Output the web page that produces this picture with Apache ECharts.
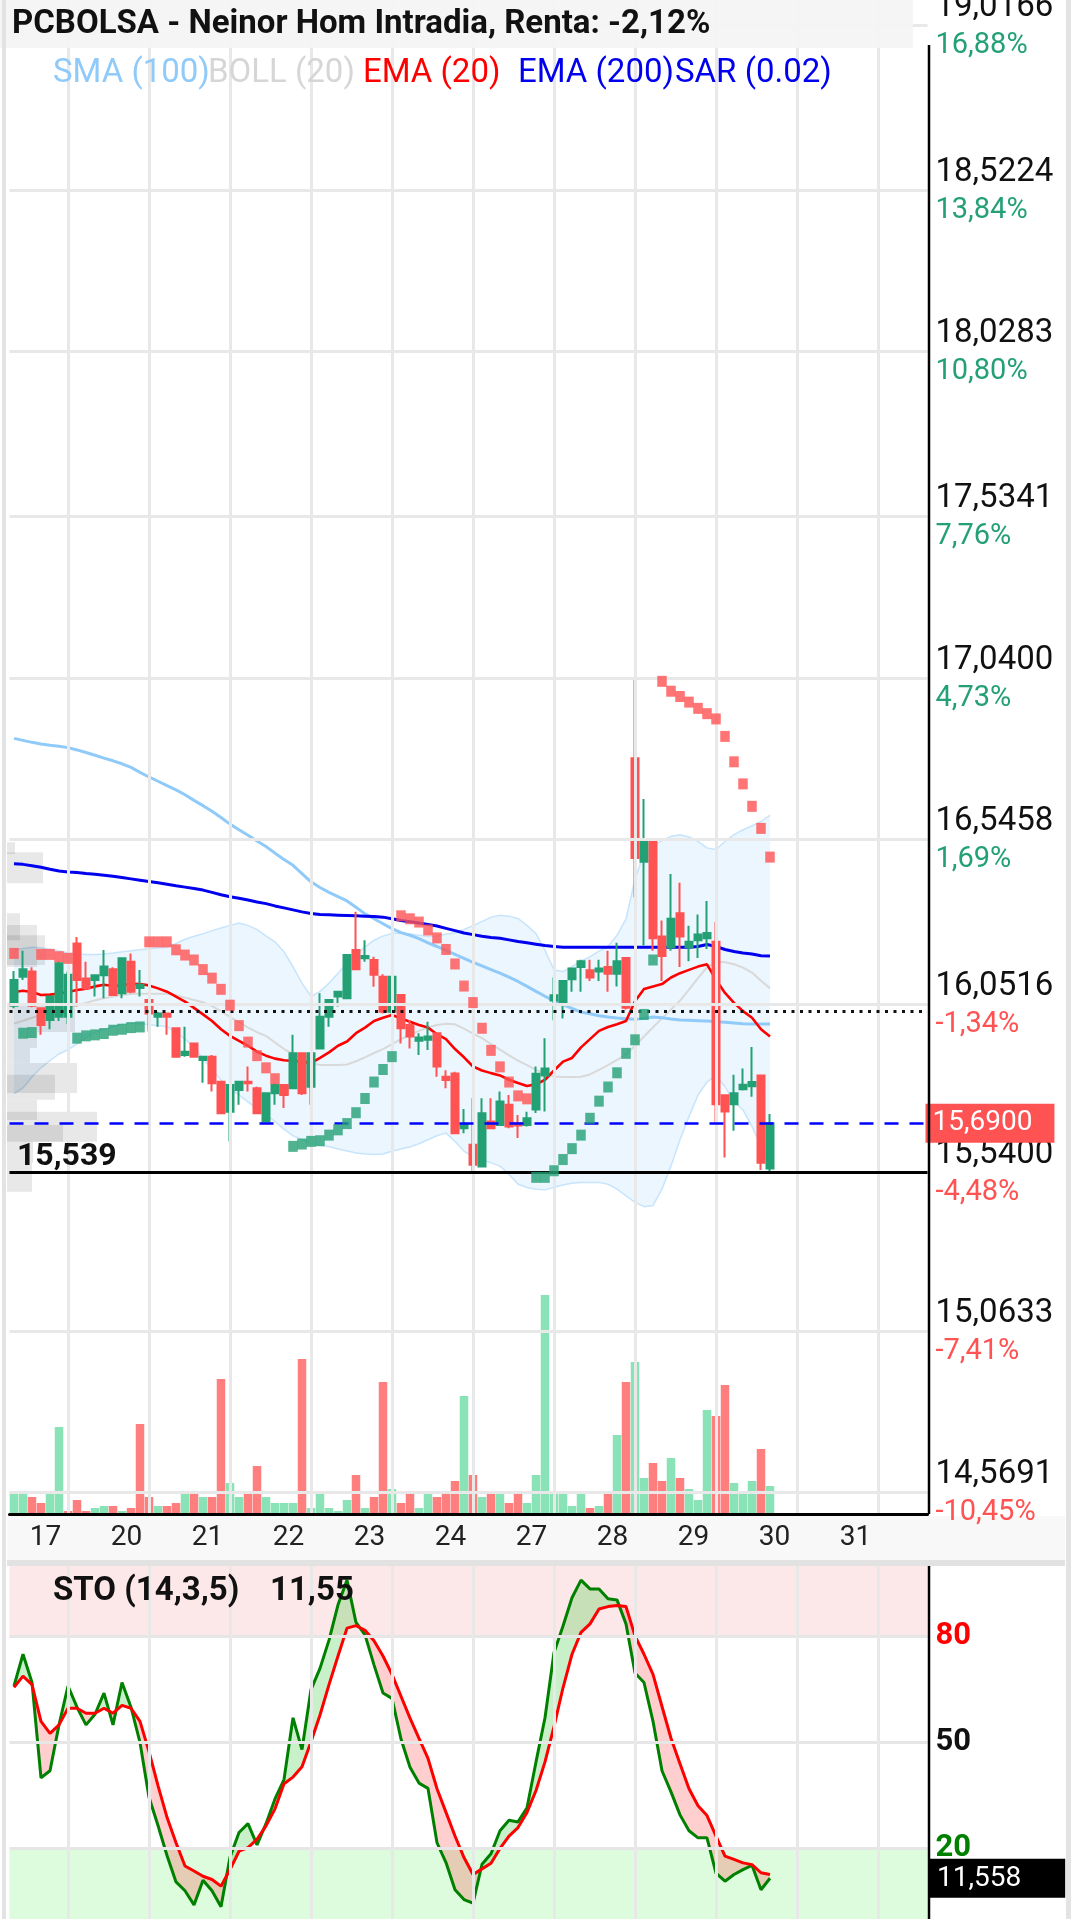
<!DOCTYPE html>
<html>
<head>
<meta charset="utf-8">
<script src="https://cdn.jsdelivr.net/npm/echarts@6/dist/echarts.min.js"></script>
<style>
html,body{margin:0;padding:0;background:#fff;}
#chart{width:1071px;height:1919px;}
</style>
</head>
<body>
<div id="chart"></div>
<script>
// PCBOLSA Neinor Homes, velas horarias + indicadores
const dayLabels = ['17', '20', '21', '22', '23', '24', '27', '28', '29', '30', '31'];
const firstDayBar = 4;   // primera vela del dia 17
const barsPerDay = 9;
const slots = 102;       // huecos del eje x (incluye futuro)

const open = [16.046,16.134,16.150,16.039,16.003,16.013,16.013,16.235,16.129,16.124,
  16.139,16.157,16.084,16.180,16.100,16.064,16.013,16.023,15.978,15.897,
  15.932,15.882,15.892,15.816,15.725,15.791,15.816,15.796,15.695,15.781,
  15.806,15.796,15.902,15.801,15.917,16.013,16.074,16.069,16.215,16.190,
  16.185,16.134,16.028,16.079,15.988,15.940,15.943,15.963,15.831,15.841,
  15.675,15.625,15.559,15.695,15.685,15.746,15.690,15.685,15.732,15.835,
  16.062,16.051,16.127,16.164,16.154,16.150,16.164,16.143,16.191,16.797,
  16.483,16.548,16.256,16.224,16.327,16.224,16.245,16.251,16.240,15.775,
  15.748,15.793,15.802,15.835,15.553];
const close = [16.124,16.157,16.046,15.988,16.074,16.175,16.140,16.124,16.099,16.139,
  16.165,16.079,16.190,16.089,16.110,16.023,16.023,16.013,15.892,15.907,
  15.892,15.892,15.811,15.720,15.806,15.816,15.811,15.720,15.781,15.806,
  15.776,15.902,15.781,15.902,16.013,16.064,16.089,16.200,16.157,16.197,
  16.140,16.028,16.134,15.978,15.953,15.950,15.953,15.862,15.821,15.660,
  15.685,15.564,15.720,15.675,15.756,15.680,15.683,15.705,15.840,15.856,
  16.078,16.121,16.159,16.181,16.132,16.159,16.143,16.181,16.040,16.494,
  16.548,16.251,16.197,16.310,16.256,16.240,16.262,16.267,15.748,15.726,
  15.781,15.807,15.815,15.570,15.690];
const low = [16.039,16.124,16.042,15.958,15.975,16.000,15.990,16.044,16.094,16.074,
  16.069,16.076,16.069,16.084,16.074,15.968,15.983,15.958,15.890,15.892,
  15.890,15.813,15.786,15.720,15.635,15.746,15.786,15.720,15.695,15.746,
  15.736,15.796,15.776,15.746,15.917,15.983,16.044,16.069,16.157,16.180,
  16.104,16.023,16.023,15.932,15.917,15.897,15.912,15.831,15.796,15.660,
  15.660,15.544,15.557,15.675,15.685,15.675,15.645,15.680,15.721,15.726,
  16.002,16.008,16.089,16.089,16.121,16.121,16.089,16.105,16.035,16.375,
  16.229,16.213,16.121,16.213,16.164,16.181,16.191,16.218,15.694,15.586,
  15.667,15.789,15.770,15.548,15.542];
const high = [16.152,16.213,16.163,16.040,16.075,16.180,16.150,16.255,16.180,16.140,
  16.215,16.163,16.190,16.205,16.155,16.066,16.028,16.025,15.980,15.983,
  15.935,15.892,15.897,15.816,15.806,15.816,15.862,15.801,15.781,15.811,
  15.806,15.958,15.905,15.905,16.084,16.064,16.090,16.200,16.331,16.245,
  16.195,16.142,16.134,16.080,16.003,15.963,15.998,15.963,15.851,15.846,
  15.733,15.766,15.766,15.766,15.786,15.776,15.715,15.725,15.862,15.948,
  16.132,16.121,16.159,16.186,16.186,16.186,16.213,16.237,16.194,17.040,
  16.673,16.548,16.305,16.446,16.419,16.289,16.323,16.364,16.300,15.775,
  15.837,15.856,15.921,15.837,15.718];

const volume = [22,20,17,11,22,87,3,14,3,6,
  8,8,3,6,90,17,8,8,11,20,
  22,17,17,135,31,17,20,48,17,11,
  11,11,155,6,20,6,3,14,39,6,
  17,132,25,11,22,6,22,17,20,33,
  118,39,17,20,20,11,22,11,39,219,
  22,22,8,20,6,8,20,79,132,152,
  36,51,33,56,36,25,14,104,98,129,
  31,22,33,65,28];
const volUp = [1,1,0,0,1,1,0,0,0,1,
  1,0,1,0,0,0,1,0,0,1,
  0,1,0,0,1,1,0,0,1,1,
  1,1,0,1,1,1,1,1,0,1,
  0,0,1,0,0,1,1,0,0,0,
  1,0,1,0,1,0,0,1,1,1,
  1,1,1,1,0,1,0,1,0,1,
  1,0,0,1,0,1,1,1,0,0,
  1,1,1,0,1];

const sma100 = [16.857,16.851,16.845,16.840,16.836,16.833,16.829,16.822,16.814,16.806,
  16.797,16.789,16.780,16.769,16.754,16.740,16.727,16.714,16.701,16.686,
  16.669,16.653,16.636,16.617,16.597,16.580,16.563,16.546,16.529,16.509,
  16.490,16.472,16.447,16.422,16.405,16.390,16.377,16.364,16.345,16.325,
  16.310,16.295,16.280,16.268,16.260,16.250,16.237,16.226,16.214,16.202,
  16.190,16.178,16.167,16.156,16.145,16.133,16.120,16.105,16.090,16.075,
  16.062,16.050,16.038,16.027,16.022,16.016,16.012,16.009,16.007,16.005,
  16.008,16.012,16.010,16.006,16.003,16.002,16.001,16.000,15.998,15.996,
  15.994,15.992,15.991,15.991,15.991];
const ema200 = [16.477,16.475,16.471,16.466,16.460,16.455,16.452,16.450,16.447,16.445,
  16.442,16.439,16.435,16.431,16.427,16.423,16.419,16.415,16.410,16.406,
  16.402,16.397,16.390,16.383,16.377,16.372,16.367,16.361,16.356,16.349,
  16.343,16.337,16.331,16.326,16.323,16.322,16.321,16.320,16.319,16.318,
  16.317,16.315,16.310,16.305,16.301,16.297,16.293,16.288,16.281,16.274,
  16.267,16.262,16.257,16.253,16.251,16.246,16.241,16.237,16.233,16.229,
  16.226,16.224,16.224,16.224,16.224,16.224,16.224,16.224,16.224,16.224,
  16.224,16.224,16.224,16.224,16.224,16.224,16.226,16.232,16.226,16.217,
  16.211,16.206,16.203,16.198,16.197];
const ema20 = [16.088,16.092,16.088,16.079,16.080,16.083,16.088,16.094,16.098,16.105,
  16.110,16.106,16.108,16.113,16.112,16.108,16.099,16.089,16.074,16.059,
  16.040,16.020,16.000,15.975,15.955,15.940,15.925,15.907,15.895,15.886,
  15.881,15.879,15.877,15.872,15.888,15.905,15.925,15.938,15.963,15.980,
  16.000,16.010,16.018,16.008,15.998,15.988,15.980,15.960,15.945,15.915,
  15.890,15.862,15.850,15.842,15.835,15.822,15.812,15.803,15.808,15.822,
  15.850,15.877,15.888,15.920,15.945,15.970,15.982,15.990,16.000,16.060,
  16.097,16.105,16.112,16.132,16.145,16.155,16.165,16.172,16.125,16.085,
  16.055,16.030,16.010,15.975,15.953];
const bollMid = [15.992,16.001,16.010,16.018,16.026,16.034,16.042,16.048,16.055,16.063,
  16.069,16.074,16.079,16.082,16.083,16.083,16.083,16.083,16.078,16.071,
  16.064,16.057,16.045,16.030,16.012,15.997,15.980,15.966,15.955,15.935,
  15.915,15.900,15.885,15.872,15.867,15.867,15.867,15.868,15.878,15.890,
  15.903,15.915,15.930,15.945,15.958,15.970,15.981,15.988,15.992,15.990,
  15.977,15.962,15.948,15.930,15.913,15.896,15.880,15.866,15.852,15.840,
  15.832,15.830,15.830,15.831,15.838,15.852,15.866,15.882,15.898,15.925,
  15.953,15.981,16.008,16.035,16.062,16.095,16.130,16.163,16.180,16.178,
  16.172,16.162,16.147,16.122,16.099];
const bollUp = [16.215,16.220,16.224,16.222,16.218,16.212,16.207,16.204,16.202,16.202,
  16.203,16.206,16.210,16.213,16.216,16.219,16.222,16.224,16.235,16.248,
  16.257,16.265,16.274,16.282,16.290,16.297,16.290,16.278,16.258,16.240,
  16.210,16.165,16.115,16.075,16.090,16.115,16.145,16.175,16.200,16.225,
  16.245,16.258,16.265,16.267,16.264,16.260,16.256,16.258,16.264,16.268,
  16.278,16.289,16.302,16.315,16.321,16.318,16.311,16.290,16.265,16.215,
  16.155,16.150,16.165,16.182,16.195,16.212,16.226,16.260,16.310,16.430,
  16.510,16.530,16.548,16.560,16.565,16.558,16.545,16.525,16.520,16.545,
  16.565,16.580,16.592,16.605,16.624];
const bollLow = [15.780,15.797,15.830,15.858,15.880,15.900,15.913,15.930,15.950,15.965,
  15.975,15.982,15.990,15.993,15.992,15.989,15.986,15.983,15.965,15.945,
  15.920,15.885,15.855,15.820,15.795,15.775,15.755,15.733,15.716,15.695,
  15.672,15.652,15.640,15.630,15.624,15.619,15.612,15.606,15.600,15.597,
  15.595,15.597,15.605,15.612,15.618,15.628,15.640,15.652,15.660,15.635,
  15.605,15.589,15.578,15.570,15.560,15.535,15.505,15.495,15.490,15.488,
  15.495,15.503,15.508,15.510,15.510,15.510,15.505,15.490,15.470,15.450,
  15.437,15.440,15.490,15.560,15.640,15.710,15.775,15.815,15.835,15.800,
  15.755,15.730,15.680,15.620,15.564];
const sar = [16.205,15.963,15.965,16.202,16.202,16.195,16.190,15.948,15.955,15.958,
  15.962,15.972,15.975,15.980,15.982,16.240,16.240,16.240,16.216,16.200,
  16.185,16.156,16.130,16.096,16.048,15.986,15.936,15.895,15.858,15.825,
  15.791,15.620,15.627,15.635,15.637,15.654,15.670,15.689,15.722,15.765,
  15.815,15.853,15.892,16.319,16.310,16.300,16.276,16.252,16.217,16.173,
  16.106,16.056,15.978,15.911,15.861,15.815,15.773,15.764,15.526,15.526,
  15.546,15.580,15.613,15.654,15.705,15.757,15.800,15.843,15.902,15.943,
  16.020,16.185,17.030,17.000,16.984,16.967,16.948,16.932,16.916,16.863,
  16.786,16.719,16.651,16.584,16.497];

const stoK = [66,75,67,40,42,55,66,60,55,58,
  64,55,67,60,50,34.5,26.5,18,10.5,8,
  4,11,8,3.5,17.5,24.5,27,21,27,34,
  39.5,57,48,65,71,79,89,96,84,80.5,
  72,64,62.5,51,43,38.5,37,21.6,16,8.3,
  5.5,4.5,15.5,18.5,25,28,27.5,31.5,44.5,57,
  75.5,83,91,96,93.5,93.5,90.7,90.4,83.6,69.7,
  67,56,42,36,29.5,25,23,23,13,10.7,
  12.6,14,15.2,8.3,11.55];
const stoD = [65.6,68.8,66.4,56,52.6,55,59.7,59.7,58.3,58.3,
  59.7,58.3,60.5,59.7,56,47.4,37.8,28.8,21.6,15,
  13.6,12.1,11.2,9.3,14,19.2,20.2,22.6,26.4,31.2,
  38.3,40.2,43.1,50.2,57.8,66.4,74.5,82.4,83.1,81.8,
  78.8,74.5,69.3,63.1,56.9,51.2,45.5,36.9,30.2,23.5,
  17.4,12.6,14.2,15.8,20,23.5,25.9,30.2,36.4,44.5,
  54.5,65.5,75,81.2,83.6,87.8,88.5,88.8,88.5,80.2,
  75,69.3,60.2,51.2,44,36.9,32.1,29.3,23.5,17.8,
  16.9,15.9,15.4,13.1,12.6];

// perfil de volumen por precio (izquierda)
const profLow  = [16.506,16.418,16.245,16.164,16.170,15.967,15.918,15.873,15.782,15.761,15.700,15.634,15.634,15.570,15.482];
const profHigh = [16.542,16.512,16.327,16.291,16.260,16.055,15.967,15.918,15.873,15.837,15.761,15.725,15.685,15.634,15.570];
const profVol  = [8,36,13,30,38,68,30,23,70,48,30,90,56,26,25];

const priceTicks = [19.0166, 18.5224, 18.0283, 17.5341, 17.0400, 16.5458, 16.0516, 15.5400, 15.0633, 14.5691];
const pctTicks = ['16,88%', '13,84%', '10,80%', '7,76%', '4,73%', '1,69%', '-1,34%', '-4,48%', '-7,41%', '-10,45%'];
const lastPrice = 15.69;
const prevClose = 16.03;
const minPrice = 15.539;
const stoLevels = [80, 50, 20];
const stoLast = 11.558;
const gridIdx = [6, 15, 24, 33, 42, 51, 60, 69, 78, 87, 96];

const GREEN = '#23a074';
const RED = '#ff5252';
const FONT = 'Roboto';

const categories = [];
for (let i = 0; i < slots; i++) {
  if (i < firstDayBar) categories.push('16 ' + (13 + i) + 'h');
  else categories.push(dayLabels[Math.floor((i - firstDayBar) / barsPerDay)] + ' ' + (9 + (i - firstDayBar) % barsPerDay) + 'h');
}

const fmt4 = v => v.toFixed(4).replace('.', ',');
const vLine = idx => ({xAxis: idx, lineStyle: {color: '#e8e8e8', width: 3, type: 'solid'}, label: {show: false}});

const priceLines = priceTicks.map((v, k) => ({
  yAxis: v,
  lineStyle: {color: '#e8e8e8', width: 3, type: 'solid'},
  label: {formatter: '{p|' + fmt4(v) + '}\n{' + (pctTicks[k][0] === '-' ? 'r' : 'g') + '|' + pctTicks[k] + '}'}
}));

const stoLines = stoLevels.map(v => ({
  yAxis: v,
  lineStyle: {color: '#e6e6e6', width: 3, type: 'solid'},
  label: {formatter: '{' + (v === 80 ? 'r' : v === 20 ? 'g' : 'k') + '|' + v + '}'}
}));

const chart = echarts.init(document.getElementById('chart'), null, {renderer: 'canvas'});

const lineS = (data, color, width, z) => ({
  type: 'line', data: data, symbol: 'none', showSymbol: false, z: z,
  lineStyle: {color: color, width: width}, silent: true
});

const option = {
  animation: false,
  backgroundColor: '#ffffff',
  textStyle: {fontFamily: FONT},
  grid: [
    {left: 9.5, right: 143.5, top: 0, bottom: 405},
    {left: 9.5, right: 143.5, top: 1234, bottom: 405},
    {left: 9.5, right: 143.5, top: 1566, bottom: 0},
    {left: 7, right: 143.5, top: 0, bottom: 405}
  ],
  xAxis: [
    {type: 'category', gridIndex: 0, data: categories, boundaryGap: true, z: 10,
      axisLine: {show: true, lineStyle: {color: '#000', width: 3}},
      axisTick: {show: false}, splitLine: {show: false},
      axisLabel: {
        interval: i => i >= firstDayBar && (i - firstDayBar) % barsPerDay === 0,
        formatter: v => v.split(' ')[0],
        color: '#222', fontSize: 28, fontFamily: FONT, margin: 10, padding: [0, 9, 0, 0]
      }},
    {type: 'category', gridIndex: 1, data: categories, show: false},
    {type: 'category', gridIndex: 2, data: categories, show: false},
    {type: 'value', gridIndex: 3, min: 0, max: 920, show: false}
  ],
  yAxis: [
    {type: 'value', gridIndex: 0, min: 14.5052, max: 19.0959, show: false},
    {type: 'value', gridIndex: 1, min: 0, max: 280, show: false},
    {type: 'value', gridIndex: 2, min: 0, max: 100, show: false},
    {type: 'value', gridIndex: 3, min: 14.5052, max: 19.0959, show: false}
  ],
  series: [
    // banda de Bollinger: base invisible + relleno apilado; lleva tambien la rejilla
    {type: 'line', data: bollLow, stack: 'boll', symbol: 'none', z: 1, silent: true,
      lineStyle: {opacity: 0},
      markLine: {
        silent: true, symbol: 'none', animation: false,
        label: {show: true, position: 'end', distance: 8,
          rich: {
            p: {fontSize: 33, color: '#111', fontFamily: FONT, lineHeight: 41},
            g: {fontSize: 29, color: GREEN, fontFamily: FONT, lineHeight: 35},
            r: {fontSize: 29, color: RED, fontFamily: FONT, lineHeight: 35}
          }},
        data: priceLines.concat(gridIdx.map(vLine))
      }},
    {type: 'line', data: bollUp.map((v, i) => +(v - bollLow[i]).toFixed(4)), stack: 'boll', symbol: 'none', z: 1, silent: true,
      lineStyle: {opacity: 0}, areaStyle: {color: 'rgba(33,150,243,0.12)'}},
    lineS(bollUp, 'rgba(144,202,249,0.45)', 1.5, 2),
    lineS(bollLow, 'rgba(144,202,249,0.45)', 1.5, 2),
    lineS(bollMid, '#d9d9d9', 2, 2),
    lineS(sma100, '#90caf9', 3, 3),
    lineS(ema200, '#0000ee', 3, 3),
    lineS(ema20, '#ff0000', 2.6, 3),
    {type: 'candlestick', z: 4, barWidth: 7,
      data: open.map((o, i) => [o, close[i], low[i], high[i]]),
      itemStyle: {color: GREEN, color0: RED, borderColor: GREEN, borderColor0: RED, borderWidth: 2},
      markLine: {
        silent: true, symbol: 'none', animation: false,
        data: [
          {yAxis: prevClose, lineStyle: {color: '#111', width: 3, type: [3, 5.5]}, label: {show: false}},
          {yAxis: minPrice, lineStyle: {color: '#000', width: 3, type: 'solid'}, label: {show: false}},
          {yAxis: lastPrice, lineStyle: {color: '#0000ff', width: 2.5, type: [14, 11]},
            label: {show: true, position: 'end', distance: -2, formatter: fmt4(lastPrice),
              backgroundColor: RED, color: '#fff', fontSize: 28, fontFamily: FONT,
              lineHeight: 34, padding: [3, 22, 2, 7]}}
        ]
      }},
    {type: 'scatter', z: 5, symbol: 'rect', symbolSize: [9.5, 11], silent: true,
      data: sar.map((v, i) => ({value: [i, v], itemStyle: {color: v > close[i] ? RED : GREEN}}))},
    {type: 'bar', xAxisIndex: 1, yAxisIndex: 1, barWidth: 8.5, z: 2, silent: true,
      data: volume.map((v, i) => ({value: v, itemStyle: {color: volUp[i] ? 'rgba(20,200,110,0.5)' : 'rgba(255,0,0,0.5)'}}))},
    {type: 'custom', xAxisIndex: 3, yAxisIndex: 3, z: 3, silent: true,
      encode: {x: 2, y: 0},
      data: profLow.map((lo, i) => [lo, profHigh[i], profVol[i]]),
      renderItem: (params, api) => {
        const a = api.coord([0, api.value(0)]);
        const b = api.coord([api.value(2), api.value(1)]);
        return {type: 'rect', shape: {x: a[0], y: b[1], width: b[0] - a[0], height: a[1] - b[1]},
          style: {fill: 'rgba(0,0,0,0.09)'}};
      }},
    // estocastico: relleno entre %K y %D
    {type: 'custom', xAxisIndex: 2, yAxisIndex: 2, z: 2, silent: true,
      encode: {x: 0, y: 1},
      data: stoK.slice(0, -1).map((k, i) => [i, k, stoD[i], stoK[i + 1], stoD[i + 1]]),
      renderItem: (params, api) => {
        const i = api.value(0);
        const k0 = api.value(1), d0 = api.value(2), k1 = api.value(3), d1 = api.value(4);
        const pk0 = api.coord([i, k0]), pd0 = api.coord([i, d0]);
        const pk1 = api.coord([i + 1, k1]), pd1 = api.coord([i + 1, d1]);
        const col = s => s >= 0 ? 'rgba(40,200,40,0.25)' : 'rgba(255,60,60,0.25)';
        const s0 = k0 - d0, s1 = k1 - d1;
        if (s0 * s1 >= 0) {
          return {type: 'polygon', shape: {points: [pk0, pk1, pd1, pd0]}, style: {fill: col(s0 + s1)}};
        }
        const t = s0 / (s0 - s1);
        const px = [pk0[0] + (pk1[0] - pk0[0]) * t, pk0[1] + (pk1[1] - pk0[1]) * t];
        return {type: 'group', children: [
          {type: 'polygon', shape: {points: [pk0, px, pd0]}, style: {fill: col(s0)}},
          {type: 'polygon', shape: {points: [px, pk1, pd1]}, style: {fill: col(s1)}}
        ]};
      }},
    {type: 'line', xAxisIndex: 2, yAxisIndex: 2, data: stoK, symbol: 'none', z: 3, silent: true,
      lineStyle: {color: '#008000', width: 3},
      markArea: {silent: true, data: [
        [{yAxis: 80, itemStyle: {color: '#fde8e9'}}, {yAxis: 100}],
        [{yAxis: 0, itemStyle: {color: '#ddfcdd'}}, {yAxis: 20}]
      ]},
      markLine: {
        silent: true, symbol: 'none', animation: false,
        label: {show: true, position: 'end', distance: 8,
          rich: {
            r: {fontSize: 31, fontWeight: 'bold', color: '#ff0000', fontFamily: FONT},
            k: {fontSize: 31, fontWeight: 'bold', color: '#111', fontFamily: FONT},
            g: {fontSize: 31, fontWeight: 'bold', color: '#008000', fontFamily: FONT}
          }},
        data: stoLines.concat(gridIdx.map(vLine)).concat([
          {yAxis: stoLast, lineStyle: {color: 'rgba(0,0,0,0)', width: 1},
            label: {formatter: String(stoLast).replace('.', ','), backgroundColor: '#000', color: '#fff',
              fontSize: 28, fontFamily: FONT, lineHeight: 34, padding: [3, 44, 2, 8], distance: 1.5}}
        ])
      }},
    {type: 'line', xAxisIndex: 2, yAxisIndex: 2, data: stoD, symbol: 'none', z: 4, silent: true,
      lineStyle: {color: '#ff0000', width: 3}}
  ],
  graphic: [
    {type: 'rect', z: 5, silent: true, shape: {x: 7, y: 1516, width: 1058, height: 50}, style: {fill: '#f8f8f8'}},
    {type: 'rect', z: 5, silent: true, shape: {x: 7, y: 1560, width: 1058, height: 6}, style: {fill: '#e2e2e2'}},
    {type: 'rect', z: 50, silent: true, shape: {x: 0, y: 0, width: 913, height: 48}, style: {fill: 'rgba(244,244,244,0.95)'}},
    {type: 'text', z: 51, silent: true, x: 12, y: 25,
      style: {text: 'PCBOLSA - Neinor Hom Intradia, Renta: -2,12%', fontSize: 33, fontWeight: 'bold', fontFamily: FONT,
        fill: '#111', textVerticalAlign: 'middle'}},
    {type: 'text', z: 51, silent: true, x: 53, y: 74, style: {text: 'SMA (100)', fontSize: 33, fontFamily: FONT, fill: '#90caf9', textVerticalAlign: 'middle'}},
    {type: 'text', z: 51, silent: true, x: 208, y: 74, style: {text: 'BOLL (20)', fontSize: 33, fontFamily: FONT, fill: '#d6d6d6', textVerticalAlign: 'middle'}},
    {type: 'text', z: 51, silent: true, x: 363, y: 74, style: {text: 'EMA (20)', fontSize: 33, fontFamily: FONT, fill: '#ff0000', textVerticalAlign: 'middle'}},
    {type: 'text', z: 51, silent: true, x: 518, y: 74, style: {text: 'EMA (200)', fontSize: 33, fontFamily: FONT, fill: '#0000ee', textVerticalAlign: 'middle'}},
    {type: 'text', z: 51, silent: true, x: 675, y: 74, style: {text: 'SAR (0.02)', fontSize: 33, fontFamily: FONT, fill: '#0000ee', textVerticalAlign: 'middle'}},
    {type: 'text', z: 51, silent: true, x: 17, y: 1157, style: {text: minPrice.toFixed(3).replace('.', ','), fontSize: 32, fontWeight: 'bold', fontFamily: FONT, fill: '#111', textVerticalAlign: 'middle'}},
    {type: 'text', z: 51, silent: true, x: 53, y: 1592, style: {text: 'STO (14,3,5)', fontSize: 33, fontWeight: 'bold', fontFamily: FONT, fill: '#111', textVerticalAlign: 'middle'}},
    {type: 'text', z: 51, silent: true, x: 270, y: 1592, style: {text: String(stoLast).slice(0, 5).replace('.', ','), fontSize: 33, fontWeight: 'bold', fontFamily: FONT, fill: '#111', textVerticalAlign: 'middle'}},
    {type: 'line', z: 51, silent: true, shape: {x1: 929, y1: 45, x2: 929, y2: 1514}, style: {stroke: '#000', lineWidth: 2.5}},
    {type: 'line', z: 51, silent: true, shape: {x1: 929, y1: 1566, x2: 929, y2: 1919}, style: {stroke: '#000', lineWidth: 2.5}},
    {type: 'rect', z: 51, silent: true, shape: {x: 2, y: 0, width: 4, height: 1919}, style: {fill: '#e3e3e3'}},
    {type: 'rect', z: 51, silent: true, shape: {x: 1066, y: 0, width: 5, height: 1919}, style: {fill: '#e3e3e3'}}
  ]
};

chart.setOption(option);
</script>
</body>
</html>
